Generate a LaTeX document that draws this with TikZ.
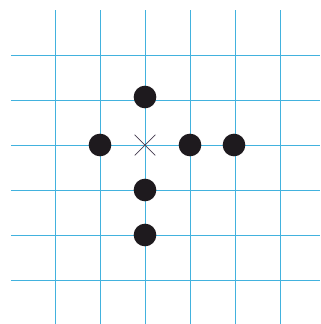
\documentclass[tikz,border=0pt]{standalone}
\usepackage{xcolor}
\usetikzlibrary{shapes.misc}

\definecolor{gridcyan}{RGB}{66,178,222}
\definecolor{dotblack}{RGB}{30,26,30}
\definecolor{crossgray}{RGB}{70,60,80}

\begin{document}
\begin{tikzpicture}[
		x=0.03cm, y=-0.03cm,
		gridline/.style={
			draw=gridcyan,
			line width=0.75pt
		},
		dotnode/.style={
			circle,
			fill=dotblack,
			inner sep=0pt,
			minimum size=0.68cm
		},
		crossnode/.style={
			cross out,
			draw=crossgray,
			line width=0.6pt,
			inner sep=0pt,
			minimum size=0.6cm
		}
		]
		
		\useasboundingbox (0,0) rectangle (321,324);
		
		% grid
		\foreach \p in {55,100,145,190,235,280} {
			\draw[gridline] (11,\p) -- (320,\p);
			\draw[gridline] (\p,10) -- (\p,324);
		}
		
		\node[crossnode] (centre) at (145,145) {};
		
		\node[dotnode] (up) at (145,97) {};
		\node[dotnode] (left) at (100,145) {};
		\node[dotnode] (right) at (190,145) {};
		\node[dotnode] (farright) at (234,145) {};
		\node[dotnode] (down) at (145,190) {};
		\node[dotnode] (fardown) at (145,235) {};
		
	\end{tikzpicture}
\end{document}
